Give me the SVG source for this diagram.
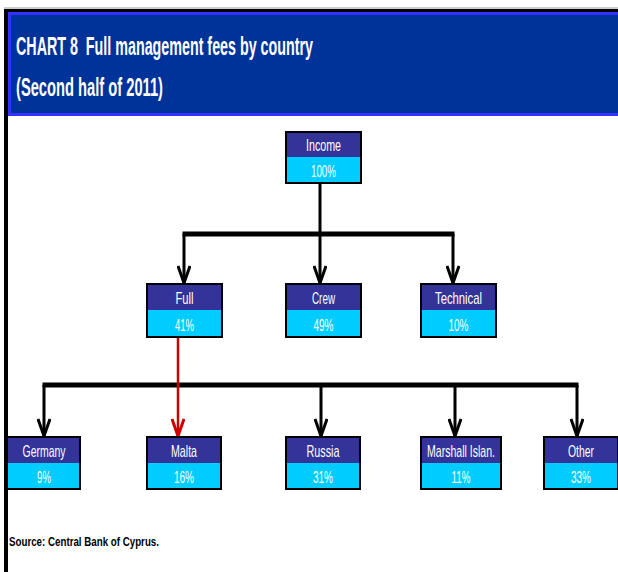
<svg xmlns="http://www.w3.org/2000/svg" width="618" height="572" viewBox="0 0 618 572">
<defs>
<style>
.top{fill:#333399}
.bot{fill:#00ccff}
.frame{fill:none;stroke:#000;stroke-width:2}
.lbl{font-family:"Liberation Sans",sans-serif;font-size:17px;fill:#fff;text-anchor:middle}
.ttl{font-family:"Liberation Sans",sans-serif;font-size:26px;font-weight:bold;fill:#fff}
.src{font-family:"Liberation Sans",sans-serif;font-size:13px;font-weight:bold;fill:#000}
.ln{fill:none;stroke:#000;stroke-width:3}
.bar{fill:none;stroke:#000;stroke-width:5}
.red{fill:none;stroke:#cc0000;stroke-width:2.5}
</style>
<marker id="ah" viewBox="0 0 20 14" refX="19" refY="7" markerWidth="20" markerHeight="14" markerUnits="userSpaceOnUse" orient="auto">
<path d="M2,1 L19,7 L2,13" fill="none" stroke="#000" stroke-width="3"/>
</marker>
<marker id="ahr" viewBox="0 0 20 14" refX="19" refY="7" markerWidth="20" markerHeight="14" markerUnits="userSpaceOnUse" orient="auto">
<path d="M2,1 L19,7 L2,13" fill="none" stroke="#cc0000" stroke-width="3"/>
</marker>
</defs>
<rect width="618" height="572" fill="#fff"/>
<line x1="4" y1="8" x2="618" y2="8" stroke="#999" stroke-width="1"/>
<rect x="4" y="9" width="614" height="3" fill="#000"/>
<rect x="4" y="9" width="4" height="563" fill="#000"/>
<g id="header">
<rect x="8" y="12" width="612" height="104" fill="#3333ff"/>
<rect x="11" y="15" width="609" height="98" fill="#003399"/>
<text class="ttl" x="16" y="55" xml:space="preserve" textLength="297" lengthAdjust="spacingAndGlyphs">CHART 8  Full management fees by country</text>
<text class="ttl" x="16" y="96" textLength="147" lengthAdjust="spacingAndGlyphs">(Second half of 2011)</text>
</g>
<g id="connectors">
<line class="ln" x1="320" y1="184" x2="320" y2="234"/>
<line class="bar" x1="182.5" y1="234" x2="454.5" y2="234"/>
<line class="ln" x1="184" y1="234" x2="184" y2="283" marker-end="url(#ah)"/>
<line class="ln" x1="320" y1="234" x2="320" y2="283" marker-end="url(#ah)"/>
<line class="ln" x1="453" y1="234" x2="453" y2="283" marker-end="url(#ah)"/>
<line class="bar" x1="42.5" y1="385" x2="578.5" y2="385"/>
<line class="ln" x1="44" y1="385" x2="44" y2="436" marker-end="url(#ah)"/>
<line class="ln" x1="321" y1="385" x2="321" y2="436" marker-end="url(#ah)"/>
<line class="ln" x1="455" y1="385" x2="455" y2="436" marker-end="url(#ah)"/>
<line class="ln" x1="577" y1="385" x2="577" y2="436" marker-end="url(#ah)"/>
<line class="red" x1="178" y1="338" x2="178" y2="436" marker-end="url(#ahr)"/>
</g>
<g id="income">
<rect class="top" x="286" y="132" width="75" height="25"/>
<rect class="bot" x="286" y="157" width="75" height="26"/>
<rect class="frame" x="286" y="132" width="75" height="51"/>
<text class="lbl" x="323.5" y="151" textLength="35" lengthAdjust="spacingAndGlyphs">Income</text>
<text class="lbl" x="323.5" y="177" textLength="25" lengthAdjust="spacingAndGlyphs">100%</text>
</g>
<g id="full">
<rect class="top" x="147" y="284" width="75" height="26"/>
<rect class="bot" x="147" y="310" width="75" height="27"/>
<rect class="frame" x="147" y="284" width="75" height="53"/>
<text class="lbl" x="184.5" y="304" textLength="18" lengthAdjust="spacingAndGlyphs">Full</text>
<text class="lbl" x="184.5" y="331" textLength="19" lengthAdjust="spacingAndGlyphs">41%</text>
</g>
<g id="crew">
<rect class="top" x="286" y="284" width="75" height="26"/>
<rect class="bot" x="286" y="310" width="75" height="27"/>
<rect class="frame" x="286" y="284" width="75" height="53"/>
<text class="lbl" x="323.5" y="304" textLength="23" lengthAdjust="spacingAndGlyphs">Crew</text>
<text class="lbl" x="323.5" y="331" textLength="20" lengthAdjust="spacingAndGlyphs">49%</text>
</g>
<g id="technical">
<rect class="top" x="421" y="284" width="75" height="26"/>
<rect class="bot" x="421" y="310" width="75" height="27"/>
<rect class="frame" x="421" y="284" width="75" height="53"/>
<text class="lbl" x="458.5" y="304" textLength="47" lengthAdjust="spacingAndGlyphs">Technical</text>
<text class="lbl" x="458.5" y="331" textLength="20" lengthAdjust="spacingAndGlyphs">10%</text>
</g>
<g id="germany">
<rect class="top" x="7" y="437" width="73" height="26"/>
<rect class="bot" x="7" y="463" width="73" height="26"/>
<rect class="frame" x="7" y="437" width="73" height="52"/>
<text class="lbl" x="44" y="457" textLength="43" lengthAdjust="spacingAndGlyphs">Germany</text>
<text class="lbl" x="44" y="483" textLength="14" lengthAdjust="spacingAndGlyphs">9%</text>
</g>
<g id="malta">
<rect class="top" x="147" y="437" width="74" height="26"/>
<rect class="bot" x="147" y="463" width="74" height="26"/>
<rect class="frame" x="147" y="437" width="74" height="52"/>
<text class="lbl" x="184" y="457" textLength="26" lengthAdjust="spacingAndGlyphs">Malta</text>
<text class="lbl" x="184" y="483" textLength="20" lengthAdjust="spacingAndGlyphs">16%</text>
</g>
<g id="russia">
<rect class="top" x="286" y="437" width="74" height="26"/>
<rect class="bot" x="286" y="463" width="74" height="26"/>
<rect class="frame" x="286" y="437" width="74" height="52"/>
<text class="lbl" x="323" y="457" textLength="33" lengthAdjust="spacingAndGlyphs">Russia</text>
<text class="lbl" x="323" y="483" textLength="20" lengthAdjust="spacingAndGlyphs">31%</text>
</g>
<g id="marshall">
<rect class="top" x="421" y="437" width="80" height="26"/>
<rect class="bot" x="421" y="463" width="80" height="26"/>
<rect class="frame" x="421" y="437" width="80" height="52"/>
<text class="lbl" x="461" y="457" textLength="68" lengthAdjust="spacingAndGlyphs">Marshall Islan.</text>
<text class="lbl" x="461" y="483" textLength="19" lengthAdjust="spacingAndGlyphs">11%</text>
</g>
<g id="other">
<rect class="top" x="544" y="437" width="74" height="26"/>
<rect class="bot" x="544" y="463" width="74" height="26"/>
<rect class="frame" x="544" y="437" width="74" height="52"/>
<text class="lbl" x="581" y="457" textLength="26" lengthAdjust="spacingAndGlyphs">Other</text>
<text class="lbl" x="581" y="483" textLength="20" lengthAdjust="spacingAndGlyphs">33%</text>
</g>
<text class="src" x="9" y="546" textLength="150" lengthAdjust="spacingAndGlyphs">Source: Central Bank of Cyprus.</text>
</svg>
